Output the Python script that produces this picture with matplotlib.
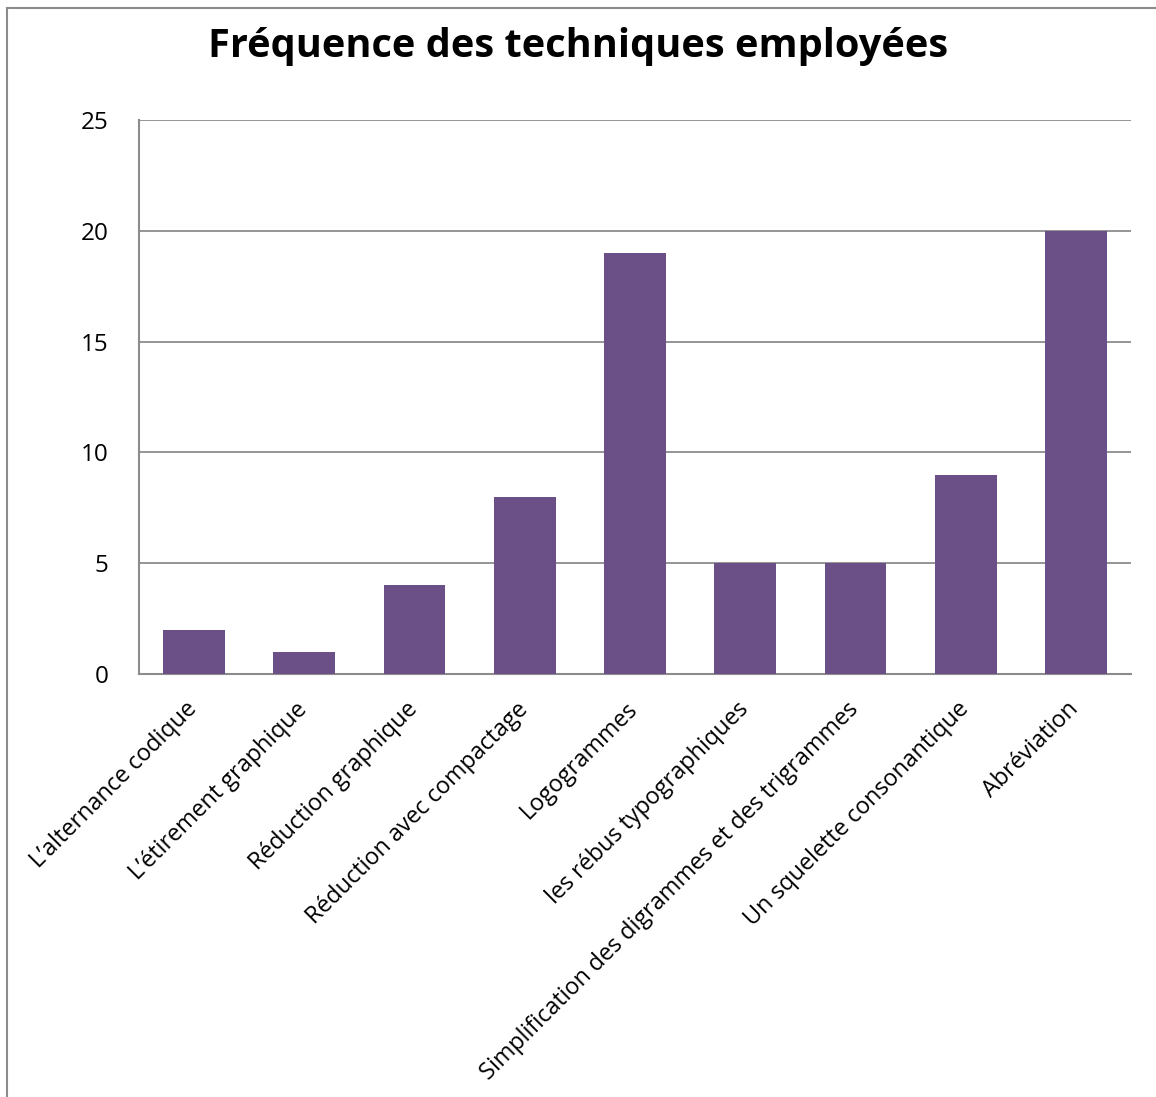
import matplotlib
matplotlib.use("Agg")
import matplotlib.pyplot as plt
import matplotlib.transforms as mtransforms
from matplotlib.lines import Line2D

categories = ["L\u2019alternance codique", "L\u2019étirement graphique", "Réduction graphique",
              "Réduction avec compactage", "Logogrammes", "les rébus typographiques",
              "Simplification des digrammes et des trigrammes", "Un squelette consonantique",
              "Abréviation"]
values = [2, 1, 4, 8, 19, 5, 5, 9, 20]
yticks = [0, 5, 10, 15, 20, 25]

plt.rcParams['font.family'] = ['Open Sans', 'DejaVu Sans']

W, H = 1156, 1097
fig = plt.figure(figsize=(W/100, H/100), dpi=100)
ax = fig.add_axes([139/W, 1-674/H, (1131-139)/W, (674-120)/H])

x = list(range(len(categories)))
ax.bar(x, values, width=0.56, color='#6A5086', zorder=3)
ax.set_xlim(-0.5, len(categories)-0.5)
ax.set_ylim(0, 25)
ax.set_yticks(yticks)
ax.yaxis.grid(True, color='#8C8C8C', linewidth=1.3, zorder=0)
ax.tick_params(axis='both', length=0, labelsize=17.5, pad=14)
ax.tick_params(axis='y', pad=22)
ax.set_xticks(x)
ax.set_xticklabels(categories, rotation=45, ha='right', va='top', rotation_mode='anchor', fontsize=16.8)
offset = mtransforms.ScaledTranslation(-9/100, -4/100, fig.dpi_scale_trans)
for lbl in ax.get_xticklabels():
    lbl.set_transform(lbl.get_transform() + offset)
for s in ['top', 'right']:
    ax.spines[s].set_visible(False)
for s in ['left', 'bottom']:
    ax.spines[s].set_color('#8C8C8C')
    ax.spines[s].set_linewidth(1.5)

fig.text(578/W, 1-46/H, "Fréquence des techniques employées", ha='center', va='center',
         fontsize=28.6, fontweight='bold')

# outer frame (left and top edges visible)
fig.add_artist(Line2D([7/W, 7/W], [0, 1-8/H], transform=fig.transFigure, color='#8C8C8C', linewidth=1.5))
fig.add_artist(Line2D([7/W, 1], [1-8/H, 1-8/H], transform=fig.transFigure, color='#8C8C8C', linewidth=1.5))

fig.savefig("out.png", dpi=100, facecolor='white')
